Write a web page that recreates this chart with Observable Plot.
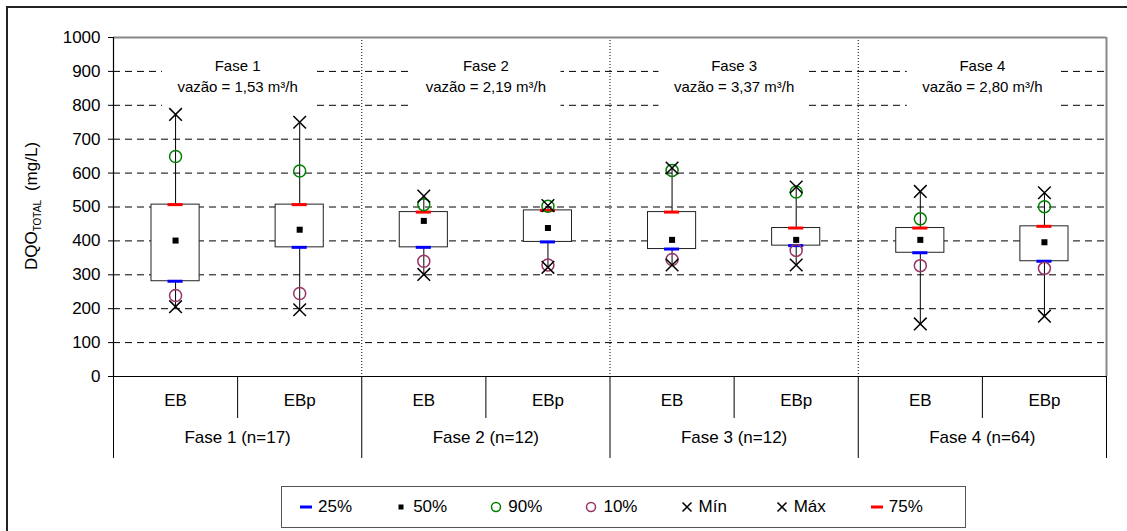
<!DOCTYPE html>
<html>
<head>
<meta charset="utf-8">
<script src="https://cdn.jsdelivr.net/npm/d3@7"></script>
<script src="https://cdn.jsdelivr.net/npm/@observablehq/plot@0.6"></script>
<style>
  html, body { margin: 0; padding: 0; background: #fff; overflow: hidden; }
  body { width: 1127px; height: 531px; position: relative; font-family: "Liberation Sans", Arial, sans-serif; }
  #chart { position: absolute; left: 0; top: 0; }
  #outline { position: absolute; left: 6px; top: 6px; width: 1400px; height: 900px;
             border-left: 2px solid #222; border-top: 2px solid #222; pointer-events: none; }
  #legend { position: absolute; left: 281px; top: 486px; width: 685px; height: 42px; box-sizing: border-box;
            border: 1px solid #555; background: #fff; display: flex; align-items: center;
            padding-left: 17px; font-size: 17px; color: #000; }
  .item { width: 101.5px; display: flex; align-items: center; }
  .item svg { margin-right: 5px; flex: none; }
</style>
</head>
<body>
<div id="chart"></div>
<div id="legend"></div>
<div id="outline"></div>
<script>
// Phases of operation and the two sampling points
const phases = ["Fase 1", "Fase 2", "Fase 3", "Fase 4"];
const sampleSizes = [17, 12, 12, 64];
const flowRates = ["1,53", "2,19", "3,37", "2,80"];
const stations = ["EB", "EBp"];

// DQO total (mg/L) statistics, ordered Fase 1 EB, Fase 1 EBp, Fase 2 EB, ...
const minimum = [206, 197, 301, 322, 329, 329, 155, 178];
const p10     = [239, 245, 340, 329, 345, 372, 327, 319];
const p25     = [281, 381, 381, 397, 376, 386, 365, 340];
const p50     = [401, 433, 459, 438, 403, 403, 403, 396];
const p75     = [507, 507, 485, 490, 485, 438, 438, 443];
const p90     = [649, 606, 507, 502, 608, 544, 465, 501];
const maximum = [773, 750, 532, 504, 615, 559, 546, 542];

const yTicks = [0, 100, 200, 300, 400, 500, 600, 700, 800, 900, 1000];
const gridValues = yTicks.slice(1, -1);
const yMax = yTicks[yTicks.length - 1];

// Legend entries
const legendLabels = ["25%", "50%", "90%", "10%", "Mín", "Máx", "75%"];
const legendKinds  = ["dash", "square", "circle", "circle", "times", "times", "dash"];
const legendColors = ["#0000ff", "#000000", "#008000", "#993366", "#000000", "#000000", "#ff0000"];

// Each group occupies one unit slot on the x scale; each phase spans two slots
const perPhase = stations.length;
const boxes = phases.flatMap((phase, p) => stations.map((station, s) => {
  const i = p * perPhase + s;
  return {
    station, slot: i, end: i + 1, mid: i + 0.5,
    min: minimum[i], p10: p10[i], p25: p25[i], p50: p50[i],
    p75: p75[i], p90: p90[i], max: maximum[i]
  };
}));
const nSlots = boxes.length;
const phaseRows = phases.map((name, p) => ({
  start: p * perPhase,
  end: (p + 1) * perPhase,
  mid: p * perPhase + perPhase / 2,
  label: `${name} (n=${sampleSizes[p]})`,
  title: `${name}\nvazão = ${flowRates[p]} m³/h`
}));
const phaseEdges = [0, ...phaseRows.map(d => d.end)];
const innerEdges = phaseRows.slice(1).map(d => d.start);
const stationEdges = boxes.filter(d => d.slot % perPhase !== 0).map(d => d.slot);

const chart = Plot.plot({
  width: 1127,
  height: 480,
  marginLeft: 113,
  marginRight: 21,
  marginTop: 37,
  marginBottom: 104,
  style: { fontFamily: "'Liberation Sans', Arial, sans-serif", fontSize: "17px", color: "#000", background: "transparent", overflow: "visible" },
  x: { domain: [0, nSlots], axis: null },
  y: { domain: [0, yMax], ticks: yTicks, tickFormat: d => String(d), tickSize: 5, tickPadding: 8, label: null },
  marks: [
    // dashed horizontal gridlines
    Plot.ruleY(gridValues, { stroke: "#000", strokeWidth: 1, strokeDasharray: "7,5" }),
    // white panels behind the phase titles
    Plot.rect(phaseRows, { x1: "start", x2: "end", fill: "#fff", insetLeft: 49, insetRight: 49, insetTop: 13, insetBottom: 266 }),
    Plot.text(phaseRows, { x: "mid", text: "title", frameAnchor: "top", lineAnchor: "top", dy: 19, fontSize: 15, lineHeight: 1.4 }),
    // dotted phase dividers inside the plot
    Plot.ruleX(innerEdges, { stroke: "#000", strokeWidth: 1, strokeDasharray: "1,2" }),
    // plot frame: grey top and right, black axes
    Plot.ruleY([yMax], { stroke: "#888", strokeWidth: 2 }),
    Plot.ruleX([nSlots], { stroke: "#888", strokeWidth: 2 }),
    Plot.ruleX([0], { stroke: "#000", strokeWidth: 1.2 }),
    Plot.ruleY([0], { stroke: "#000", strokeWidth: 1.2, insetLeft: -5 }),
    // category table below the axis
    Plot.ruleX(stationEdges, { y1: 0, y2: 0, insetBottom: -42, stroke: "#000" }),
    Plot.ruleX(phaseEdges, { y1: 0, y2: 0, insetBottom: -82, stroke: "#000" }),
    Plot.text(boxes, { x: "mid", text: "station", frameAnchor: "bottom", dy: 29, fontSize: 17 }),
    Plot.text(phaseRows, { x: "mid", text: "label", frameAnchor: "bottom", dy: 66, fontSize: 17 }),
    // whiskers, boxes and percentile markers
    Plot.ruleX(boxes, { x: "mid", y1: "min", y2: "max", stroke: "#000", strokeWidth: 1 }),
    Plot.rect(boxes, { x1: "slot", x2: "end", y1: "p25", y2: "p75", fill: "#fff", stroke: "#222", strokeWidth: 1, insetLeft: 38, insetRight: 38 }),
    Plot.ruleY(boxes, { y: "p25", x1: "slot", x2: "end", insetLeft: 54.5, insetRight: 54.5, stroke: "#0000ff", strokeWidth: 3 }),
    Plot.ruleY(boxes, { y: "p75", x1: "slot", x2: "end", insetLeft: 54.5, insetRight: 54.5, stroke: "#ff0000", strokeWidth: 3 }),
    Plot.dot(boxes, { x: "mid", y: "p50", symbol: "square", r: 3.4, fill: "#000", stroke: null }),
    Plot.dot(boxes, { x: "mid", y: "p90", r: 6, fill: "none", stroke: "#008000", strokeWidth: 1.5 }),
    Plot.dot(boxes, { x: "mid", y: "p10", r: 6, fill: "none", stroke: "#993366", strokeWidth: 1.5 }),
    Plot.dot(boxes, { x: "mid", y: "min", symbol: "times", r: 5.8, stroke: "#000", strokeWidth: 1.5 }),
    Plot.dot(boxes, { x: "mid", y: "max", symbol: "times", r: 5.8, stroke: "#000", strokeWidth: 1.5 })
  ]
});

// Y axis title with subscript
const svg = d3.select(chart);
const yLabel = svg.append("text")
  .attr("transform", "translate(37,206) rotate(-90)")
  .attr("text-anchor", "middle")
  .attr("font-size", 17)
  .attr("fill", "#000");
yLabel.append("tspan").text("DQO");
yLabel.append("tspan").attr("font-size", 10).attr("dy", 4).text("TOTAL");
yLabel.append("tspan").attr("dy", -4).attr("dx", 9).text("(mg/L)");

document.getElementById("chart").appendChild(chart);

// Legend
const legend = d3.select("#legend");
legendLabels.forEach((label, i) => {
  const item = legend.append("div").attr("class", "item");
  const icon = item.append("svg").attr("width", 14).attr("height", 14);
  const kind = legendKinds[i], color = legendColors[i];
  if (kind === "dash") icon.append("rect").attr("x", 1).attr("y", 5.5).attr("width", 12).attr("height", 3).attr("fill", color);
  if (kind === "square") icon.append("rect").attr("x", 4.5).attr("y", 4.5).attr("width", 5).attr("height", 5).attr("fill", color);
  if (kind === "circle") icon.append("circle").attr("cx", 7).attr("cy", 7).attr("r", 4.5).attr("fill", "none").attr("stroke", color).attr("stroke-width", 1.5);
  if (kind === "times") icon.append("path").attr("d", "M2.5,2.5L11.5,11.5M11.5,2.5L2.5,11.5").attr("stroke", color).attr("stroke-width", 1.5);
  item.append("span").text(label);
});
</script>
</body>
</html>
